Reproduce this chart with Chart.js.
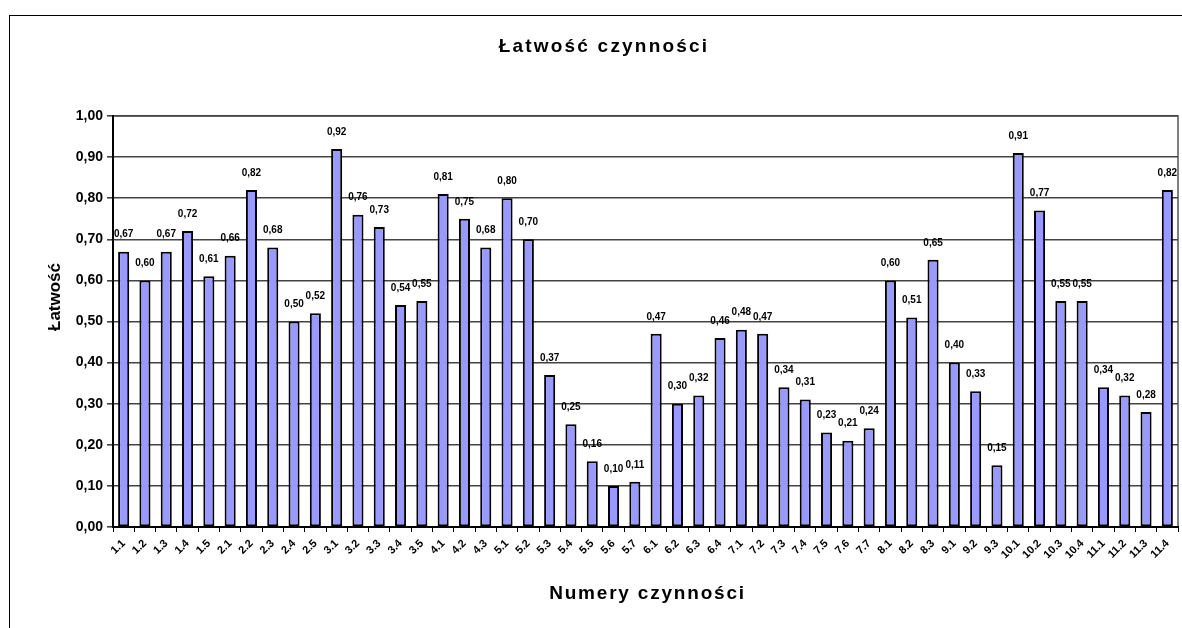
<!DOCTYPE html>
<html lang="pl">
<head>
<meta charset="utf-8">
<title>Łatwość czynności</title>
<script src="https://cdn.jsdelivr.net/npm/chart.js@4.4.1/dist/chart.umd.min.js"></script>
<style>
  html, body { margin: 0; padding: 0; background: #fff; }
  #wrap { position: relative; width: 1182px; height: 628px; }
</style>
</head>
<body>
<div id="wrap"><canvas id="wykres"></canvas></div>
<script>
// DANE

const kategorie = ["1.1", "1.2", "1.3", "1.4", "1.5", "2.1", "2.2", "2.3", "2.4", "2.5",
    "3.1", "3.2", "3.3", "3.4", "3.5", "4.1", "4.2", "4.3", "5.1", "5.2",
    "5.3", "5.4", "5.5", "5.6", "5.7", "6.1", "6.2", "6.3", "6.4", "7.1",
    "7.2", "7.3", "7.4", "7.5", "7.6", "7.7", "8.1", "8.2", "8.3", "9.1",
    "9.2", "9.3", "10.1", "10.2", "10.3", "10.4", "11.1", "11.2", "11.3", "11.4"];

const latwosc = [0.67, 0.60, 0.67, 0.72, 0.61, 0.66, 0.82, 0.68, 0.50, 0.52,
    0.92, 0.76, 0.73, 0.54, 0.55, 0.81, 0.75, 0.68, 0.80, 0.70,
    0.37, 0.25, 0.16, 0.10, 0.11, 0.47, 0.30, 0.32, 0.46, 0.48,
    0.47, 0.34, 0.31, 0.23, 0.21, 0.24, 0.60, 0.51, 0.65, 0.40,
    0.33, 0.15, 0.91, 0.77, 0.55, 0.55, 0.34, 0.32, 0.28, 0.82];

const tytulWykresu = "Łatwość czynności";
const tytulOsiX = "Numery czynności";
const tytulOsiY = "Łatwość";

const FONT = "'Liberation Sans', Arial, sans-serif";

// liczby z przecinkiem, jak w Excelu
function formatPL(v) {
    return Number(v).toFixed(2).replace(".", ",");
}

// RAMKA + obramowanie obszaru wykresu
const ramka = {
    id: "ramka",
    beforeDraw(chart) {
        const ctx = chart.ctx;
        const a = chart.chartArea;
        ctx.save();
        ctx.fillStyle = "#fff";
        ctx.fillRect(0, 0, chart.width, chart.height);
        ctx.strokeStyle = "#000";
        ctx.lineWidth = 1;
        ctx.strokeRect(9.5, 15.5, 1400, 800);
        ctx.strokeStyle = "#808080";
        ctx.lineWidth = 2;
        ctx.beginPath();
        ctx.moveTo(a.left, a.top);
        ctx.lineTo(a.right, a.top);
        ctx.lineTo(a.right, a.bottom);
        ctx.stroke();
        ctx.restore();
    }
};

// ETYKIETY WARTOSCI nad slupkami
const etykiety = {
    id: "etykiety",
    afterDatasetsDraw(chart) {
        const ctx = chart.ctx;
        const meta = chart.getDatasetMeta(0);
        ctx.save();
        ctx.font = "bold 10px " + FONT;
        ctx.fillStyle = "#000";
        ctx.textAlign = "center";
        ctx.textBaseline = "middle";
        meta.data.forEach(function (bar, i) {
            ctx.fillText(formatPL(latwosc[i]), bar.x, bar.y - 17);
        });
        ctx.restore();
    }
};

// TYTULY (z rozstrzeleniem liter jak w Excelu)
const tytuly = {
    id: "tytuly",
    afterDraw(chart) {
        const ctx = chart.ctx;
        const a = chart.chartArea;
        ctx.save();
        ctx.fillStyle = "#000";
        ctx.textAlign = "center";
        ctx.textBaseline = "alphabetic";

        ctx.font = "bold 19px " + FONT;
        if ("letterSpacing" in ctx) ctx.letterSpacing = "2.2px";
        ctx.fillText(tytulWykresu, 604, 52);

        if ("letterSpacing" in ctx) ctx.letterSpacing = "1.8px";
        ctx.fillText(tytulOsiX, (a.left + a.right) / 2 + 2, 599);

        ctx.font = "bold 17px " + FONT;
        if ("letterSpacing" in ctx) ctx.letterSpacing = "0px";
        ctx.translate(60, 297);
        ctx.rotate(-Math.PI / 2);
        ctx.fillText(tytulOsiY, 0, 0);
        ctx.restore();
    }
};

new Chart(document.getElementById("wykres"), {
    type: "bar",
    data: {
        labels: kategorie,
        datasets: [{
            label: tytulOsiY,
            data: latwosc,
            backgroundColor: "#9999ff",
            borderColor: "#000",
            borderWidth: 2,
            borderSkipped: false,
            barPercentage: 0.52,
            categoryPercentage: 1
        }]
    },
    options: {
        responsive: true,
        maintainAspectRatio: false,
        animation: false,
        layout: {
            padding: { top: 116, left: 28, right: 4, bottom: 0 }
        },
        plugins: {
            legend: { display: false },
            title: { display: false },
            tooltip: { enabled: false }
        },
        scales: {
            x: {
                afterFit: function (scale) { scale.height = 101; },
                grid: {
                    drawOnChartArea: false,
                    drawTicks: true,
                    tickLength: 5,
                    color: "#000",
                    lineWidth: 1
                },
                border: { color: "#000", width: 2 },
                ticks: {
                    autoSkip: false,
                    minRotation: 45,
                    maxRotation: 45,
                    padding: 5,
                    color: "#000",
                    font: { family: FONT, size: 11, weight: "bold" }
                }
            },
            y: {
                min: 0,
                max: 1,
                afterFit: function (scale) { scale.width = 85; },
                grid: {
                    color: "#444",
                    lineWidth: 1.6,
                    tickLength: 6
                },
                border: { color: "#000", width: 2 },
                ticks: {
                    stepSize: 0.1,
                    padding: 4,
                    color: "#000",
                    font: { family: FONT, size: 14, weight: "bold" },
                    callback: function (v) { return formatPL(v); }
                }
            }
        }
    },
    plugins: [ramka, etykiety, tytuly]
});
</script>
</body>
</html>
